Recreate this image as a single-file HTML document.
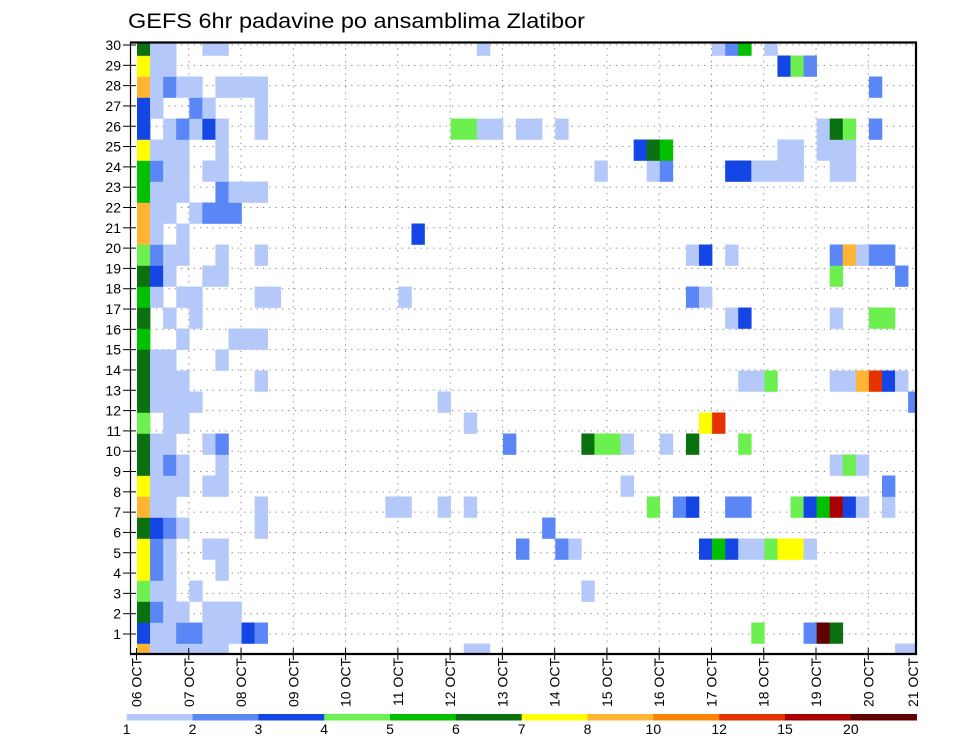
<!DOCTYPE html>
<html><head><meta charset="utf-8"><style>
html,body{margin:0;padding:0;background:#fff;}
svg{display:block;font-family:"Liberation Sans",sans-serif;}
</style></head><body>
<svg id="chart" width="960" height="742" viewBox="0 0 960 742">
<defs><clipPath id="plotclip"><rect x="137" y="42.5" width="779" height="611.5"/></clipPath></defs>
<text x="128" y="28" font-size="21" textLength="457" lengthAdjust="spacingAndGlyphs">GEFS 6hr padavine po ansamblima Zlatibor</text>
<g id="grid"></g>
<g id="cells" clip-path="url(#plotclip)"></g>
<g id="axes"></g>
<g id="legend"></g>
</svg>
<script>
// ---- data ----
const dayLabels = ["06 OCT","07 OCT","08 OCT","09 OCT","10 OCT","11 OCT","12 OCT","13 OCT","14 OCT","15 OCT","16 OCT","17 OCT","18 OCT","19 OCT","20 OCT","21 OCT"];
const yTickLabels = [1,2,3,4,5,6,7,8,9,10,11,12,13,14,15,16,17,18,19,20,21,22,23,24,25,26,27,28,29,30];
const levelLabels = ["1","2","3","4","5","6","7","8","10","12","15","20"];
const levelColors = ["#ffffff","#b4c8fa","#5a87f5","#1446e6","#6cf050","#00c000","#0a7010","#ffff00","#ffb432","#ff8200","#e63200","#aa0000","#640000"];
// per ensemble row: [column(6h step), level]
const row0  = [[0,8],[1,1],[2,1],[3,1],[4,1],[5,1],[6,1],[25,1],[26,1],[58,1],[59,1]];
const row1  = [[0,3],[1,1],[2,1],[3,2],[4,2],[5,1],[6,1],[7,1],[8,3],[9,2],[47,4],[51,2],[52,12],[53,6]];
const row2  = [[0,6],[1,2],[2,1],[3,1],[5,1],[6,1],[7,1]];
const row3  = [[0,4],[1,1],[2,1],[4,1],[34,1]];
const row4  = [[0,7],[1,2],[2,1],[6,1]];
const row5  = [[0,7],[1,2],[2,1],[5,1],[6,1],[29,2],[32,2],[33,1],[43,3],[44,5],[45,3],[46,1],[47,1],[48,4],[49,7],[50,7],[51,1]];
const row6  = [[0,6],[1,3],[2,2],[3,1],[9,1],[31,2]];
const row7  = [[0,8],[1,1],[2,1],[9,1],[19,1],[20,1],[23,1],[25,1],[39,4],[41,2],[42,3],[45,2],[46,2],[50,4],[51,3],[52,5],[53,11],[54,3],[55,1],[57,1]];
const row8  = [[0,7],[1,1],[2,1],[3,1],[5,1],[6,1],[37,1],[57,2]];
const row9  = [[0,6],[1,1],[2,2],[3,1],[6,1],[53,1],[54,4],[55,1]];
const row10 = [[0,6],[1,1],[2,1],[5,1],[6,2],[28,2],[34,6],[35,4],[36,4],[37,1],[40,1],[42,6],[46,4]];
const row11 = [[0,4],[2,1],[3,1],[25,1],[43,7],[44,10]];
const row12 = [[0,6],[1,1],[2,1],[3,1],[4,1],[23,1],[59,2]];
const row13 = [[0,6],[1,1],[2,1],[3,1],[9,1],[46,1],[47,1],[48,4],[53,1],[54,1],[55,8],[56,10],[57,3],[58,1]];
const row14 = [[0,6],[1,1],[2,1],[6,1]];
const row15 = [[0,5],[3,1],[7,1],[8,1],[9,1]];
const row16 = [[0,6],[2,1],[4,1],[45,1],[46,3],[53,1],[56,4],[57,4]];
const row17 = [[0,5],[1,1],[3,1],[4,1],[9,1],[10,1],[20,1],[42,2],[43,1]];
const row18 = [[0,6],[1,3],[2,1],[5,1],[6,1],[53,4],[58,2]];
const row19 = [[0,4],[1,2],[2,1],[3,1],[6,1],[9,1],[42,1],[43,3],[45,1],[53,2],[54,8],[55,1],[56,2],[57,2]];
const row20 = [[0,8],[1,1],[3,1],[21,3]];
const row21 = [[0,8],[1,1],[2,1],[4,1],[5,2],[6,2],[7,2]];
const row22 = [[0,5],[1,1],[2,1],[3,1],[6,2],[7,1],[8,1],[9,1]];
const row23 = [[0,5],[1,2],[2,1],[3,1],[5,1],[6,1],[35,1],[39,1],[40,2],[45,3],[46,3],[47,1],[48,1],[49,1],[50,1],[53,1],[54,1]];
const row24 = [[0,7],[1,1],[2,1],[3,1],[6,1],[38,3],[39,6],[40,5],[49,1],[50,1],[52,1],[53,1],[54,1]];
const row25 = [[0,3],[2,1],[3,2],[4,1],[5,3],[6,1],[9,1],[24,4],[25,4],[26,1],[27,1],[29,1],[30,1],[32,1],[52,1],[53,6],[54,4],[56,2]];
const row26 = [[0,3],[1,1],[4,2],[5,1],[9,1]];
const row27 = [[0,8],[1,1],[2,2],[3,1],[4,1],[6,1],[7,1],[8,1],[9,1],[56,2]];
const row28 = [[0,7],[1,1],[2,1],[49,3],[50,4],[51,2]];
const row29 = [[0,6],[1,1],[2,1],[5,1],[6,1],[26,1],[44,1],[45,2],[46,5],[48,1]];
const rows = [row0,row1,row2,row3,row4,row5,row6,row7,row8,row9,row10,row11,row12,row13,row14,row15,row16,row17,row18,row19,row20,row21,row22,row23,row24,row25,row26,row27,row28,row29];

// ---- scales ----
const NS = "http://www.w3.org/2000/svg";
const colW = 13.07, cellX0 = 137;
function xCol(c){ return cellX0 + c*colW; }
function yRow(k){ return 654 - 21*k; }          // cell centre
function xDay(d){ return 136.5 + 52.27*d; }
function yTick(v){ return 634 - 20.31*(v-1); }
function mk(tag, attrs, parent){ const e=document.createElementNS(NS,tag); for(const k in attrs) e.setAttribute(k,attrs[k]); parent.appendChild(e); return e; }

const grid = document.getElementById('grid');
const cellsG = document.getElementById('cells');
const axes = document.getElementById('axes');
const legend = document.getElementById('legend');

// grid
yTickLabels.forEach(v=>{
  const l = mk('line',{x1:137,x2:916,y1:yTick(v),y2:yTick(v),stroke:'#888','stroke-width':1,'stroke-dasharray':'1.3,5'},grid);
  
  
});
dayLabels.forEach((d,i)=>{
  if(i===0||i===15) return;
  const l = mk('line',{x1:xDay(i),x2:xDay(i),y1:42,y2:654,stroke:'#888','stroke-width':1,'stroke-dasharray':'1.3,5'},grid);
  
  
});

// cells
rows.forEach((r,k)=>{
  r.forEach(([c,lv])=>{
    const rc = mk('rect',{x:xCol(c).toFixed(2),y:(yRow(k)-10.5).toFixed(2),width:(colW+0.3).toFixed(2),height:21.3,fill:levelColors[lv]},cellsG);
    
    
  });
});

// axes
mk('line',{x1:130,x2:917,y1:42.5,y2:42.5,stroke:'#000','stroke-width':2.2},axes);
mk('line',{x1:130,x2:917,y1:654,y2:654,stroke:'#000','stroke-width':2.2},axes);
mk('line',{x1:916,x2:916,y1:42,y2:655,stroke:'#000','stroke-width':2.2},axes);
mk('line',{x1:130.5,x2:130.5,y1:42,y2:655,stroke:'#000','stroke-width':1.2},axes);
yTickLabels.forEach(v=>{
  const t = mk('line',{x1:123,x2:136,y1:yTick(v),y2:yTick(v),stroke:'#000','stroke-width':1},axes);
  
  
  const tx = mk('text',{x:121,y:yTick(v)+5,'font-size':14,'text-anchor':'end',fill:'#000'},axes);
  tx.textContent = v;
  
  
});
dayLabels.forEach((d,i)=>{
  const x = i===15 ? 913 : xDay(i);
  if(i<15){
    const t = mk('line',{x1:x,x2:x,y1:648,y2:660,stroke:'#000','stroke-width':1},axes);
    
    
  }
  const tx = mk('text',{transform:`translate(${x+5},658) rotate(-90)`,'font-size':14,'text-anchor':'end',fill:'#000'},axes);
  tx.textContent = d;
  
  
});

// colorbar
const cbX0 = 126.7, cbW = 65.83;
levelLabels.forEach((lab,i)=>{
  const r = mk('rect',{x:cbX0+i*cbW,y:714,width:cbW+0.3,height:6.5,fill:levelColors[i+1]},legend);
  
  
  const t = mk('text',{x:cbX0+i*cbW,y:734,'font-size':14,'text-anchor':'middle',fill:'#000'},legend);
  t.textContent = lab;
  
  
});
</script>
</body></html>
